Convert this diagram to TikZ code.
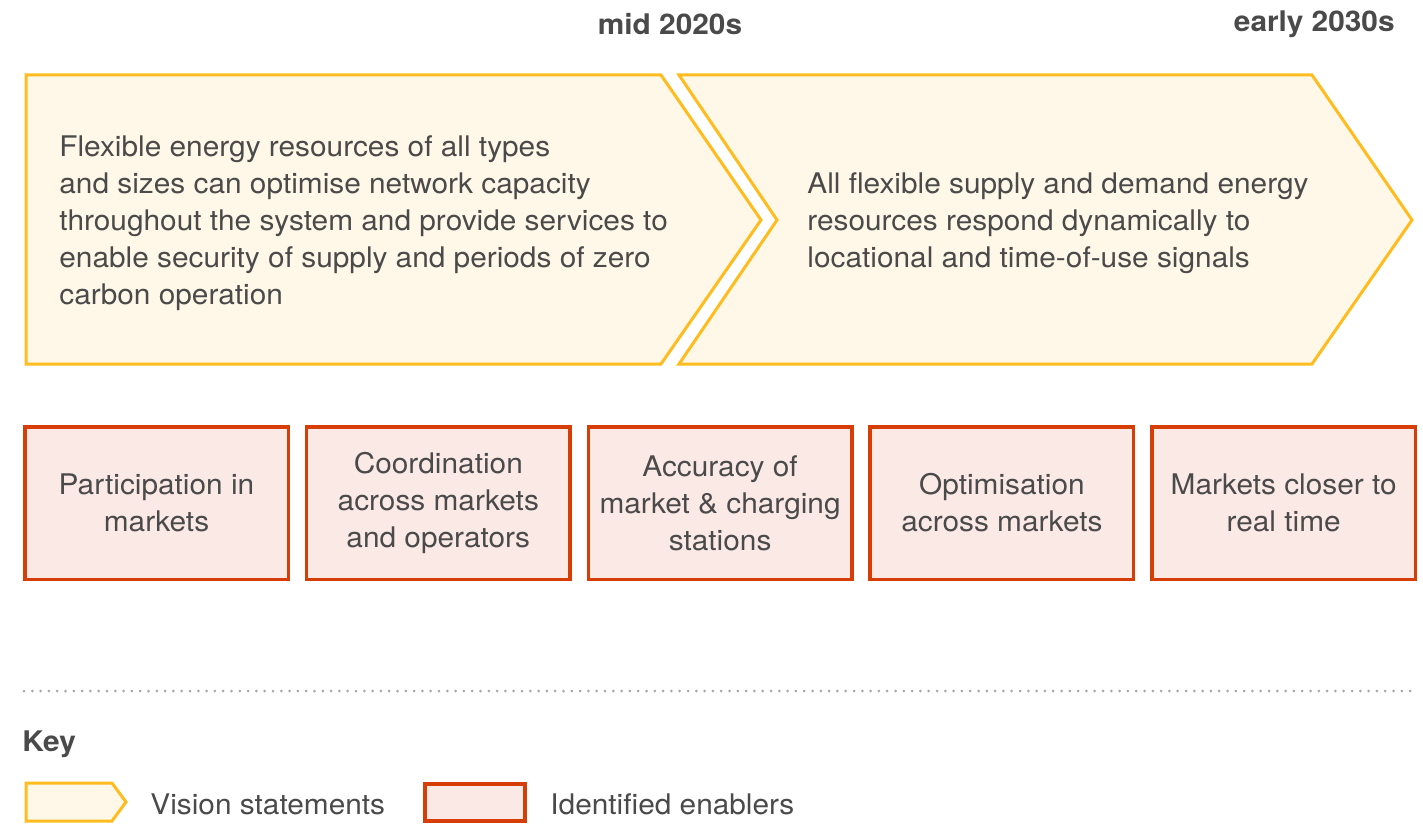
\documentclass[tikz,border=0pt]{standalone}
\usepackage{fontspec}
\setmainfont[FakeStretch=1.05]{TeX Gyre Heros}
\usepackage{xcolor}
\usepackage{tikz}
\usetikzlibrary{positioning}

\definecolor{visionline}{RGB}{255,188,31}
\definecolor{visionfill}{RGB}{255,248,232}
\definecolor{enablerline}{RGB}{214,62,6}
\definecolor{enablerfill}{RGB}{250,233,229}
\definecolor{textgrey}{RGB}{74,74,74}
\definecolor{dotgrey}{RGB}{168,168,168}

\begin{document}
\begin{tikzpicture}[x=0.5pt, y=-0.5pt, node distance=7.4pt,
  every node/.style={text=textgrey, font=\fontsize{14.2}{18.5}\selectfont},
  vision/.style={draw=visionline, fill=visionfill, line width=1.5pt, line join=miter},
  visiontext/.style={anchor=west, align=left, inner sep=0pt},
  enabler/.style={draw=enablerline, fill=enablerfill, line width=1.75pt, align=center,
    minimum width=131.75pt, minimum height=76.25pt, inner sep=0pt},
  heading/.style={font=\fontsize{14.2}{15}\selectfont\bfseries, inner sep=0pt}]
\useasboundingbox (0,0) rectangle (1423,824);

\node[heading] (mid) at (670,24) {mid 2020s};
\node[heading, anchor=east] (early) at (1395,24) {early 2030s};

\draw[vision] (26,75) -- (661,75) -- (761,220) -- (661,364) -- (26,364) -- cycle;
\draw[vision] (679,75) -- (1312,75) -- (1412,220) -- (1312,364) -- (679,364) -- (777,220) -- cycle;
\node[visiontext] (flexible) at (59,223) {Flexible energy resources of all types\\and sizes can optimise network capacity\\throughout the system and provide services to\\enable security of supply and periods of zero\\carbon operation};
\node[visiontext] (dynamic) at (807,223) {All flexible supply and demand energy\\resources respond dynamically to\\locational and time-of-use signals};

\node[enabler] (participation) at (156.5,503) {Participation in\\markets};
\node[enabler, right=of participation] (coordination) {Coordination\\across markets\\and operators};
\node[enabler, right=of coordination] (accuracy) {Accuracy of\\market \& charging\\stations};
\node[enabler, right=of accuracy] (optimisation) {Optimisation\\across markets};
\node[enabler, right=of optimisation] (realtime) {Markets closer to\\real time};

\coordinate (lineL) at (24,691);
\coordinate (lineR) at (1417,691);
\draw[dotgrey, line width=1.5pt, line cap=round, dash pattern=on 0pt off 4.15pt] (lineL) -- (lineR);

\node[heading, anchor=west] (key) at (22,744) {Key};
\draw[vision] (26,783) -- (112,783) -- (126,802) -- (112,821) -- (26,821) -- cycle;
\node[anchor=west, inner sep=0pt] (visionkey) at (150,804) {Vision statements};
\draw[draw=enablerline, fill=enablerfill, line width=1.75pt] (425,784) rectangle (525,821);
\node[anchor=west, inner sep=0pt] (enablerkey) at (550,804) {Identified enablers};
\end{tikzpicture}
\end{document}
